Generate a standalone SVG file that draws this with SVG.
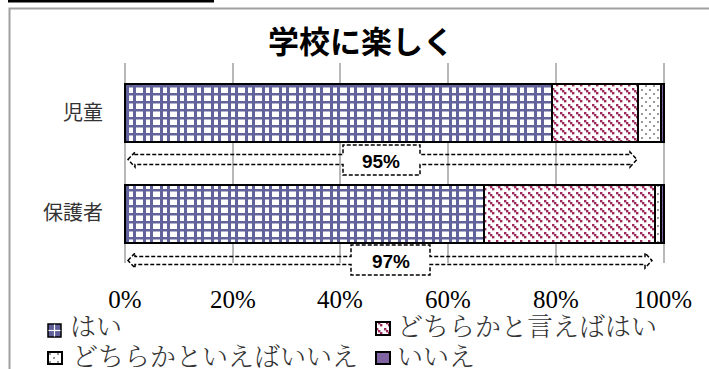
<svg xmlns="http://www.w3.org/2000/svg" width="709" height="369" viewBox="0 0 709 369">
<style>
.grid{stroke:#a0a0a0;stroke-width:1.5}
.seg{stroke:#000;stroke-width:2}
.cat{font-family:"Noto Sans CJK JP","Noto Sans",sans-serif;font-size:20px;fill:#333;text-anchor:end}
.ax{font-family:"Liberation Serif",serif;font-size:25px;fill:#000;text-anchor:middle}
.leg{font-family:"Noto Serif CJK JP","Noto Sans CJK JP",serif;font-size:26px;font-weight:300;fill:#333}
.pct{font-family:"Liberation Sans",Arial,sans-serif;font-size:19px;font-weight:bold;fill:#000;text-anchor:middle}
.call{fill:none;stroke:#000;stroke-width:1.5;stroke-dasharray:4 2}
</style>
<defs>
<pattern id="pGrid" x="126" y="85" width="17" height="8" patternUnits="userSpaceOnUse">
<rect width="17" height="8" fill="#fff"/>
<rect x="0" y="0" width="3" height="8" fill="#63639c"/>
<rect x="7" y="0" width="3" height="8" fill="#63639c"/>
<rect x="0" y="0" width="17" height="2.5" fill="#63639c"/>
</pattern>
<pattern id="pDiag" width="8" height="8" patternUnits="userSpaceOnUse">
<rect width="8" height="8" fill="#fff"/>
<rect x="0" y="0" width="2.4" height="2.4" fill="#9e2a5d"/>
<rect x="2" y="2" width="2.4" height="2.4" fill="#9e2a5d"/>
<rect x="4" y="4" width="2.4" height="2.4" fill="#9e2a5d"/>
</pattern>
<pattern id="pDot" width="8" height="8" patternUnits="userSpaceOnUse">
<rect width="8" height="8" fill="#fff"/>
<rect x="1" y="1" width="2" height="2" fill="#999"/>
<rect x="5" y="5" width="2" height="2" fill="#999"/>
</pattern>
</defs>
<rect width="709" height="369" fill="#fff"/>
<rect x="8" y="0" width="206" height="2.5" fill="#000"/>
<path d="M9.5 369 V8.5 H709" fill="none" stroke="#a0a0a0" stroke-width="2"/>
<text x="361" y="53" font-family="'Noto Sans CJK JP','Noto Sans',sans-serif" font-size="31" font-weight="bold" text-anchor="middle" fill="#000">学校に楽しく</text>
<g id="gridlines">
<line class="grid" x1="125" y1="63" x2="125" y2="263"/>
<line class="grid" x1="233" y1="63" x2="233" y2="263"/>
<line class="grid" x1="340" y1="63" x2="340" y2="263"/>
<line class="grid" x1="448" y1="63" x2="448" y2="263"/>
<line class="grid" x1="556" y1="63" x2="556" y2="263"/>
<line class="grid" x1="664" y1="63" x2="664" y2="263"/>
</g>
<g id="bar-jido">
<rect class="seg" x="125" y="84" width="427" height="58" fill="url(#pGrid)"/>
<rect class="seg" x="552" y="84" width="86" height="58" fill="url(#pDiag)"/>
<rect class="seg" x="638" y="84" width="23" height="58" fill="url(#pDot)"/>
<rect class="seg" x="661" y="84" width="3" height="58" fill="#7e5fa3"/>
<text class="cat" x="103" y="120">児童</text>
</g>
<g id="bar-hogosha">
<rect class="seg" x="125" y="185" width="359" height="58" fill="url(#pGrid)"/>
<rect class="seg" x="484" y="185" width="171" height="58" fill="url(#pDiag)"/>
<rect class="seg" x="655" y="185" width="6" height="58" fill="url(#pDot)"/>
<rect class="seg" x="661" y="185" width="3" height="58" fill="#7e5fa3"/>
<text class="cat" x="103" y="220">保護者</text>
</g>
<g id="connectors">
<path class="call" d="M128 159.5 L135 152 L135 154.5 L343 154.5 L343 145 L420 145 L420 154.5 L630 154.5 L630 152 L637 159.5 L630 167 L630 164.5 L420 164.5 L420 175 L343 175 L343 164.5 L135 164.5 L135 167 Z"/>
<path class="call" d="M128 260.5 L135 253 L135 256.5 L351 256.5 L351 245 L430 245 L430 256.5 L645 256.5 L645 253 L652 260.5 L645 268 L645 264.5 L430 264.5 L430 275 L351 275 L351 264.5 L135 264.5 L135 268 Z"/>
</g>
<g id="callout-95"><text class="pct" x="381" y="168">95%</text></g>
<g id="callout-97"><text class="pct" x="391" y="268">97%</text></g>
<g id="axis">
<text class="ax" x="125" y="308">0%</text>
<text class="ax" x="233" y="308">20%</text>
<text class="ax" x="340" y="308">40%</text>
<text class="ax" x="448" y="308">60%</text>
<text class="ax" x="556" y="308">80%</text>
<text class="ax" x="663" y="308">100%</text>
</g>
<g id="legend">
<g id="leg-hai">
<rect x="48" y="324" width="13" height="13" fill="#5f5f99" stroke="#000" stroke-width="1.5"/>
<line x1="54.5" y1="324.5" x2="54.5" y2="336.5" stroke="#fff" stroke-width="1.2"/>
<line x1="48.5" y1="330.5" x2="60.5" y2="330.5" stroke="#fff" stroke-width="1.2"/>
<text class="leg" x="70" y="336">はい</text>
</g>
<g id="leg-dochira-hai">
<rect x="376" y="322" width="14" height="13" fill="url(#pDiag)" stroke="#000" stroke-width="2"/>
<text class="leg" x="397" y="336">どちらかと言えばはい</text>
</g>
<g id="leg-dochira-iie">
<rect x="48" y="352" width="14" height="12" fill="url(#pDot)" stroke="#000" stroke-width="2"/>
<text class="leg" x="72" y="366">どちらかといえばいいえ</text>
</g>
<g id="leg-iie">
<rect x="376" y="352" width="14" height="12" fill="#8064a2" stroke="#000" stroke-width="2"/>
<text class="leg" x="397" y="366">いいえ</text>
</g>
</g>
</svg>
